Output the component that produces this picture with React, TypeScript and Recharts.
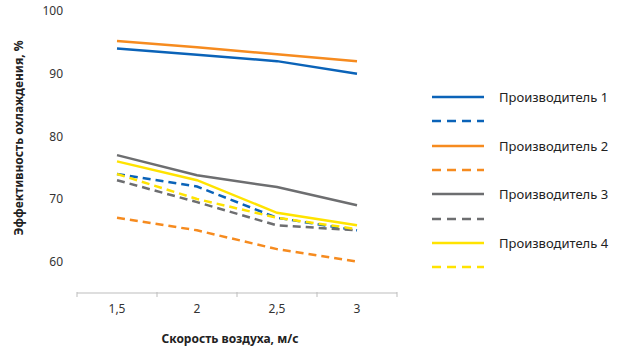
import {LineChart, Line, XAxis, YAxis} from "recharts";

const speeds = [1.5, 2, 2.5, 3];
const xTicks = [1.25, 1.5, 1.75, 2, 2.25, 2.5, 2.75, 3, 3.25];
const yTicks = [60, 70, 80, 90, 100];

const maker1 = [94, 93, 92, 90];
const maker1Dash = [74, 72, 67, 65];
const maker2 = [95.2, 94.2, 93.1, 92];
const maker2Dash = [67, 65, 62, 60];
const maker3 = [77, 73.8, 71.9, 69];
const maker3Dash = [73, 69.5, 65.8, 65];
const maker4 = [76, 73, 67.8, 65.8];
const maker4Dash = [74, 70, 67, 65.2];

const series = [
  {key: "m1", name: "Производитель 1", color: "#0b63b8", dash: false, values: maker1},
  {key: "m1d", name: "", color: "#0b63b8", dash: true, values: maker1Dash},
  {key: "m2", name: "Производитель 2", color: "#f68b1f", dash: false, values: maker2},
  {key: "m2d", name: "", color: "#f68b1f", dash: true, values: maker2Dash},
  {key: "m3", name: "Производитель 3", color: "#6d6e70", dash: false, values: maker3},
  {key: "m3d", name: "", color: "#6d6e70", dash: true, values: maker3Dash},
  {key: "m4", name: "Производитель 4", color: "#ffe300", dash: false, values: maker4},
  {key: "m4d", name: "", color: "#ffe300", dash: true, values: maker4Dash},
];

const data = speeds.map((s, i) => {
  const row: Record<string, number> = {speed: s};
  series.forEach((sr) => {
    row[sr.key] = sr.values[i];
  });
  return row;
});

const FONT = "'Noto Sans', sans-serif";
const DASH = "8 5";

function XTick(props: any) {
  const {x, y, payload} = props;
  const v = payload.value as number;
  if (!Number.isInteger(v * 2)) {
    return <line x1={x} x2={x} y1={y - 1} y2={y + 4} stroke="#bdbdbd" />;
  }
  return (
    <text x={x} y={y + 20} textAnchor="middle" fontSize={12} fill="#333" fontFamily={FONT}>
      {String(v).replace(".", ",")}
    </text>
  );
}

function LegendBox() {
  return (
    <div
      style={{
        position: "absolute",
        left: 432,
        top: 85,
        fontFamily: FONT,
        fontSize: 13,
        color: "#222",
      }}
    >
      {series.map((s) => (
        <div key={s.key} style={{display: "flex", alignItems: "center", height: 24.3}}>
          <svg width={52} height={6} style={{marginRight: 15}}>
            <line
              x1={0}
              x2={52}
              y1={3}
              y2={3}
              stroke={s.color}
              strokeWidth={2.5}
              strokeDasharray={s.dash ? "9 6" : undefined}
            />
          </svg>
          <span>{s.name}</span>
        </div>
      ))}
    </div>
  );
}

export default function App() {
  return (
    <div style={{position: "absolute", left: 0, top: 0, width: 620, height: 355, background: "#fff"}}>
      <LineChart width={620} height={355} data={data} margin={{top: 11, right: 223, bottom: 0, left: 0}}>
        <XAxis
          dataKey="speed"
          type="number"
          domain={[1.25, 3.25]}
          ticks={xTicks}
          interval={0}
          tick={<XTick />}
          tickLine={false}
          tickSize={0}
          tickMargin={0}
          axisLine={{stroke: "#bdbdbd"}}
          height={62}
          label={{
            value: "Скорость воздуха, м/с",
            position: "insideBottom",
            offset: 12,
            dx: -7,
            style: {fontFamily: FONT, fontSize: 12, fontWeight: 700, fill: "#222"},
          }}
        />
        <YAxis
          domain={[55, 100]}
          ticks={yTicks}
          width={77}
          axisLine={false}
          tickLine={false}
          tickSize={0}
          tickMargin={14}
          tick={{fontSize: 12, fill: "#333", fontFamily: FONT}}
          label={{
            content: (p: any) => {
              const vb = p.viewBox;
              const cx = 18;
              const cy = vb.y + vb.height / 2 - 14;
              return (
                <text
                  x={cx}
                  y={cy}
                  transform={`rotate(-90, ${cx}, ${cy})`}
                  textAnchor="middle"
                  dominantBaseline="central"
                  fontSize={12}
                  fontWeight={700}
                  fill="#222"
                  fontFamily={FONT}
                >
                  Эффективность охлаждения, %
                </text>
              );
            },
          }}
        />
        {series.map((s) => (
          <Line
            key={s.key}
            dataKey={s.key}
            name={s.name}
            stroke={s.color}
            strokeWidth={2.5}
            strokeDasharray={s.dash ? DASH : undefined}
            dot={false}
            activeDot={false}
            type="linear"
            isAnimationActive={false}
          />
        ))}
      </LineChart>
      <LegendBox />
    </div>
  );
}
